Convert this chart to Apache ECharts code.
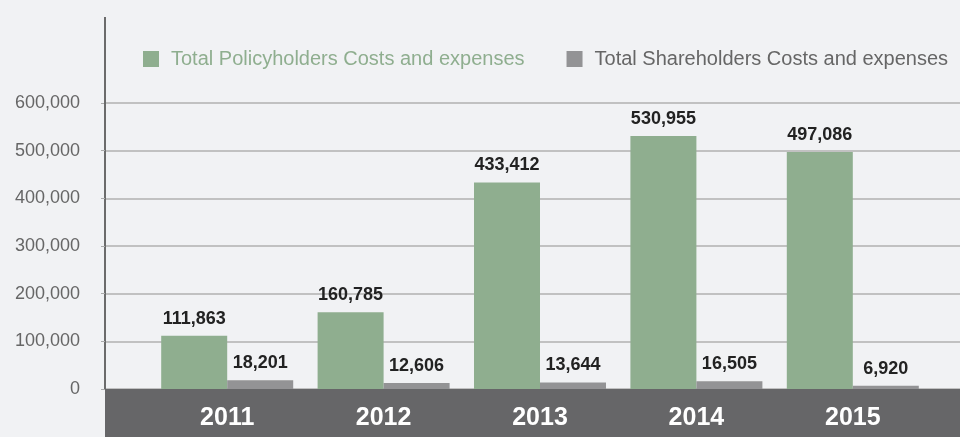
<!DOCTYPE html>
<html>
<head>
<meta charset="utf-8">
<title>Costs and expenses 2011–2015</title>
<script src="https://cdn.jsdelivr.net/npm/echarts@6/dist/echarts.min.js"></script>
<style>
  html, body { margin: 0; padding: 0; background: #f1f2f4; }
  #chart { width: 960px; height: 437px; }
</style>
</head>
<body>
<div id="chart"></div>
<script>
// Years shown along the bottom band
const years = ['2011', '2012', '2013', '2014', '2015'];

// Series names
const policyName = 'Total Policyholders Costs and expenses';
const shareName = 'Total Shareholders Costs and expenses';

// Values per year
const policyholders = [111863, 160785, 433412, 530955, 497086];
const shareholders = [18201, 12606, 13644, 16505, 6920];

// Value axis range and step
const yMin = 0;
const yMax = 600000;
const yStep = 100000;

const GREEN = '#8fae8f';
const GREY = '#939395';
const FONT = 'Liberation Sans, Arial, Helvetica, sans-serif';

const fmt = v => Number(v).toLocaleString('en-US');

const chart = echarts.init(document.getElementById('chart'));

const barLabel = {
  show: true,
  position: 'top',
  distance: 8,
  color: '#222',
  fontFamily: FONT,
  fontWeight: 'bold',
  fontSize: 18,
  formatter: p => fmt(p.value)
};

chart.setOption({
  backgroundColor: '#f1f2f4',
  animation: false,
  textStyle: { fontFamily: FONT },
  legend: {
    top: 49,
    left: 143,
    padding: 0,
    itemWidth: 16,
    itemHeight: 16,
    itemGap: 42,
    icon: 'rect',
    textStyle: { fontSize: 20, fontFamily: FONT, padding: [0, 0, 0, 7] },
    data: [
      { name: policyName, textStyle: { color: GREEN } },
      { name: shareName, textStyle: { color: '#666' } }
    ]
  },
  grid: [
    // full-width grid carrying the value axis and its gridlines
    { left: 105, right: 0, top: 103, bottom: 48 },
    // inner grid holding the bars
    { left: 149, right: 29, top: 103, bottom: 48 }
  ],
  xAxis: [
    { type: 'category', gridIndex: 0, data: years, show: false },
    {
      type: 'category', gridIndex: 1, data: years, z: 10,
      axisLine: { show: false }, axisTick: { show: false },
      axisLabel: {
        color: '#fff', fontSize: 25, fontWeight: 'bold',
        fontFamily: FONT, margin: 17
      }
    }
  ],
  yAxis: [
    {
      type: 'value', gridIndex: 0, min: yMin, max: yMax, interval: yStep,
      axisLine: { show: true, lineStyle: { color: '#6b6b6b', width: 2 } },
      axisTick: { show: true, length: 4, lineStyle: { color: '#aaa' } },
      splitLine: { show: true, lineStyle: { color: '#b0b0b0', width: 1.5 } },
      axisLabel: { color: '#666', fontSize: 18, fontFamily: FONT, margin: 25, formatter: fmt }
    },
    {
      type: 'value', gridIndex: 1, min: yMin, max: yMax, interval: yStep, show: false
    }
  ],
  graphic: [
    // dark band behind the year labels
    {
      type: 'rect', z: 1,
      shape: { x: 105, y: 389, width: 855, height: 48 },
      style: { fill: '#666668' }
    },
    // value axis line continuing above the top gridline
    {
      type: 'line', z: 1,
      shape: { x1: 105, y1: 17, x2: 105, y2: 104 },
      style: { stroke: '#6b6b6b', lineWidth: 2 }
    }
  ],
  series: [
    {
      name: policyName, type: 'bar', xAxisIndex: 1, yAxisIndex: 1,
      data: policyholders, barWidth: 66, barGap: '0%',
      itemStyle: { color: GREEN }, label: barLabel
    },
    {
      name: shareName, type: 'bar', xAxisIndex: 1, yAxisIndex: 1,
      data: shareholders, barWidth: 66, barGap: '0%',
      itemStyle: { color: GREY }, label: barLabel
    }
  ]
});
</script>
</body>
</html>
